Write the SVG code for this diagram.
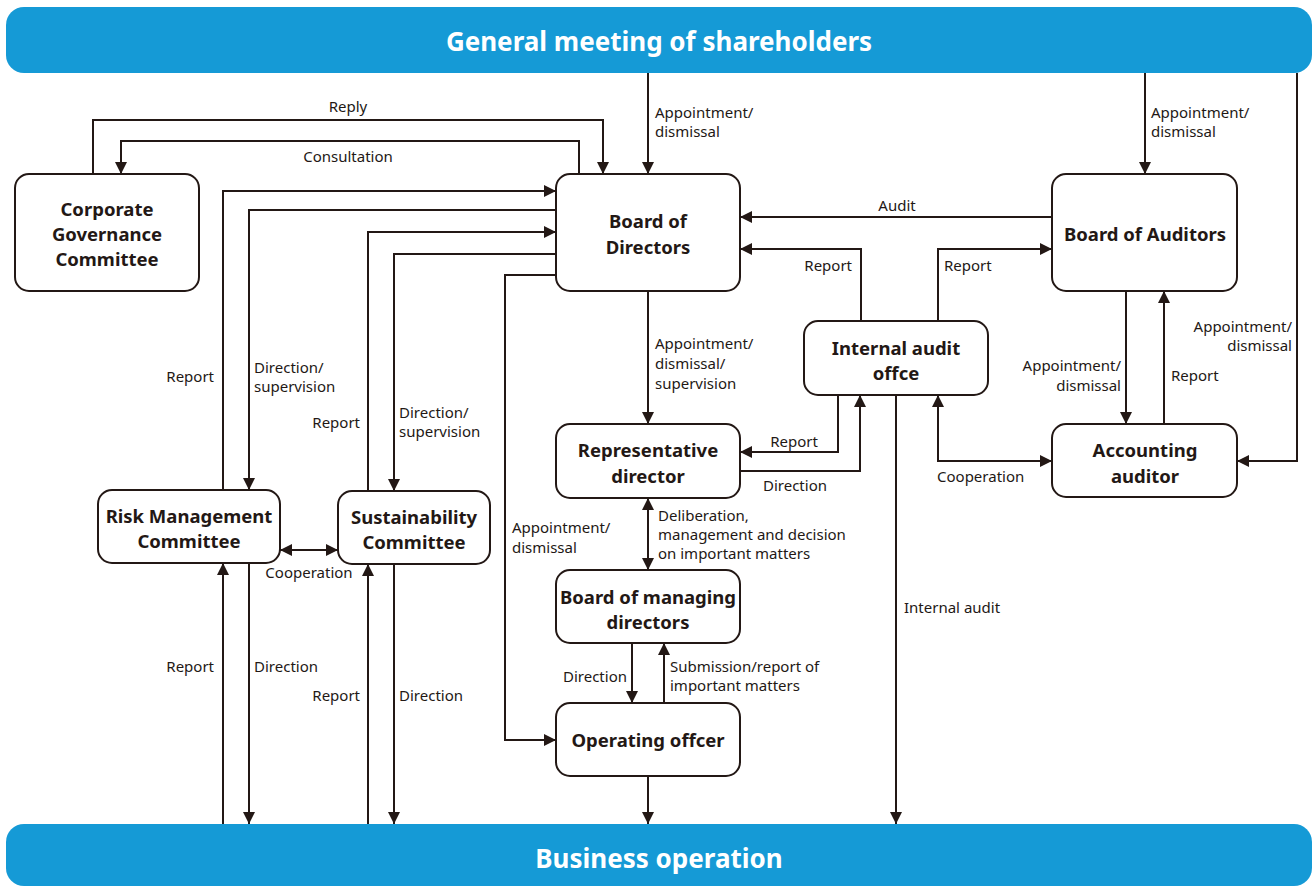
<svg xmlns="http://www.w3.org/2000/svg" width="1313" height="886" viewBox="0 0 1313 886">
  <style>
    .banner { fill: #159ad6; }
    .banner-text { font-family: "Noto Sans", "Liberation Sans", sans-serif; font-weight: bold; font-size: 26px; fill: #ffffff; text-anchor: middle; }
    .box { fill: #ffffff; stroke: #231815; stroke-width: 2; }
    .node-text { font-family: "Noto Sans", "Liberation Sans", sans-serif; font-weight: bold; font-size: 18.5px; fill: #231815; text-anchor: middle; }
    .wire { fill: none; stroke: #231815; stroke-width: 2; }
    .lbl { font-family: "Noto Sans", "Liberation Sans", sans-serif; font-size: 15px; fill: #231815; }
    .mid { text-anchor: middle; }
    .end { text-anchor: end; }
  </style>
  <defs>
    <marker id="arrow" viewBox="0 0 10 10" refX="10" refY="5" markerWidth="12" markerHeight="12" markerUnits="userSpaceOnUse" orient="auto-start-reverse">
      <path d="M0,0 L10,5 L0,10 z" fill="#231815"/>
    </marker>
  </defs>

  <rect width="1313" height="886" fill="#ffffff"/>

  <!-- banners -->
  <g id="general-meeting">
    <rect class="banner" x="6" y="7" width="1306" height="66" rx="18"/>
    <text class="banner-text" x="659" y="51">General meeting of shareholders</text>
  </g>
  <g id="business-operation">
    <rect class="banner" x="6" y="824" width="1306" height="62" rx="18"/>
    <text class="banner-text" x="659" y="868">Business operation</text>
  </g>

  <!-- connectors -->
  <g id="connectors" class="wire">
    <path d="M648,73 V174" marker-end="url(#arrow)"/>
    <path d="M1145,73 V174" marker-end="url(#arrow)"/>
    <path d="M93,174 V120 H603 V174" marker-end="url(#arrow)"/>
    <path d="M579,174 V141 H121 V174" marker-end="url(#arrow)"/>
    <path d="M223,490 V191 H556" marker-end="url(#arrow)"/>
    <path d="M556,210 H249 V490" marker-end="url(#arrow)"/>
    <path d="M368,491 V232 H556" marker-end="url(#arrow)"/>
    <path d="M556,254 H394 V491" marker-end="url(#arrow)"/>
    <path d="M556,275 H505 V740 H556" marker-end="url(#arrow)"/>
    <path d="M1052,217 H740" marker-end="url(#arrow)"/>
    <path d="M861,321 V249 H740" marker-end="url(#arrow)"/>
    <path d="M938,321 V249 H1052" marker-end="url(#arrow)"/>
    <path d="M1297,73 V461 H1237" marker-end="url(#arrow)"/>
    <path d="M1126,291 V424" marker-end="url(#arrow)"/>
    <path d="M1164,424 V291" marker-end="url(#arrow)"/>
    <path d="M938,395 V461 H1052" marker-start="url(#arrow)" marker-end="url(#arrow)"/>
    <path d="M838,395 V452 H740" marker-end="url(#arrow)"/>
    <path d="M740,471 H860 V395" marker-end="url(#arrow)"/>
    <path d="M896,395 V824" marker-end="url(#arrow)"/>
    <path d="M648,291 V424" marker-end="url(#arrow)"/>
    <path d="M648,498 V570" marker-start="url(#arrow)" marker-end="url(#arrow)"/>
    <path d="M632,643 V703" marker-end="url(#arrow)"/>
    <path d="M664,703 V643" marker-end="url(#arrow)"/>
    <path d="M648,776 V824" marker-end="url(#arrow)"/>
    <path d="M280,550 H338" marker-start="url(#arrow)" marker-end="url(#arrow)"/>
    <path d="M223,824 V563" marker-end="url(#arrow)"/>
    <path d="M249,563 V824" marker-end="url(#arrow)"/>
    <path d="M368,824 V564" marker-end="url(#arrow)"/>
    <path d="M394,564 V824" marker-end="url(#arrow)"/>
  </g>

  <!-- connector labels -->
  <g id="connector-labels" class="lbl">
    <text class="mid" x="348" y="112">Reply</text>
    <text class="mid" x="348" y="162">Consultation</text>
    <text x="655" y="118">Appointment/</text>
    <text x="655" y="137">dismissal</text>
    <text x="1151" y="118">Appointment/</text>
    <text x="1151" y="137">dismissal</text>
    <text class="mid" x="897" y="211">Audit</text>
    <text class="end" x="852" y="271">Report</text>
    <text x="944" y="271">Report</text>
    <text class="end" x="1292" y="332">Appointment/</text>
    <text class="end" x="1292" y="351">dismissal</text>
    <text class="end" x="1121" y="371">Appointment/</text>
    <text class="end" x="1121" y="391">dismissal</text>
    <text x="1171" y="381">Report</text>
    <text x="937" y="482">Cooperation</text>
    <text x="904" y="613">Internal audit</text>
    <text x="655" y="349">Appointment/</text>
    <text x="655" y="369">dismissal/</text>
    <text x="655" y="389">supervision</text>
    <text class="mid" x="794" y="447">Report</text>
    <text class="mid" x="795" y="491">Direction</text>
    <text x="658" y="521">Deliberation,</text>
    <text x="658" y="540">management and decision</text>
    <text x="658" y="559">on important matters</text>
    <text x="512" y="533">Appointment/</text>
    <text x="512" y="553">dismissal</text>
    <text class="end" x="214" y="382">Report</text>
    <text x="254" y="373">Direction/</text>
    <text x="254" y="392">supervision</text>
    <text class="end" x="360" y="428">Report</text>
    <text x="399" y="418">Direction/</text>
    <text x="399" y="437">supervision</text>
    <text class="mid" x="309" y="578">Cooperation</text>
    <text class="end" x="214" y="672">Report</text>
    <text x="254" y="672">Direction</text>
    <text class="end" x="360" y="701">Report</text>
    <text x="399" y="701">Direction</text>
    <text class="end" x="627" y="682">Direction</text>
    <text x="670" y="672">Submission/report of</text>
    <text x="670" y="691">important matters</text>
  </g>

  <!-- nodes -->
  <g id="corporate-governance-committee">
    <rect class="box" x="15" y="174" width="184" height="117" rx="14"/>
    <text class="node-text" x="107" y="216">Corporate</text>
    <text class="node-text" x="107" y="241">Governance</text>
    <text class="node-text" x="107" y="266">Committee</text>
  </g>
  <g id="board-of-directors">
    <rect class="box" x="556" y="174" width="184" height="117" rx="14"/>
    <text class="node-text" x="648" y="228">Board of</text>
    <text class="node-text" x="648" y="254">Directors</text>
  </g>
  <g id="board-of-auditors">
    <rect class="box" x="1052" y="174" width="185" height="117" rx="14"/>
    <text class="node-text" x="1145" y="241">Board of Auditors</text>
  </g>
  <g id="internal-audit-office">
    <rect class="box" x="804" y="321" width="184" height="74" rx="14"/>
    <text class="node-text" x="896" y="355">Internal audit</text>
    <text class="node-text" x="896" y="380">offce</text>
  </g>
  <g id="representative-director">
    <rect class="box" x="556" y="424" width="184" height="74" rx="14"/>
    <text class="node-text" x="648" y="457">Representative</text>
    <text class="node-text" x="648" y="483">director</text>
  </g>
  <g id="accounting-auditor">
    <rect class="box" x="1052" y="424" width="185" height="73" rx="14"/>
    <text class="node-text" x="1145" y="457">Accounting</text>
    <text class="node-text" x="1145" y="483">auditor</text>
  </g>
  <g id="risk-management-committee">
    <rect class="box" x="98" y="490" width="182" height="73" rx="14"/>
    <text class="node-text" x="189" y="523">Risk Management</text>
    <text class="node-text" x="189" y="548">Committee</text>
  </g>
  <g id="sustainability-committee">
    <rect class="box" x="338" y="491" width="152" height="73" rx="14"/>
    <text class="node-text" x="414" y="524">Sustainability</text>
    <text class="node-text" x="414" y="549">Committee</text>
  </g>
  <g id="board-of-managing-directors">
    <rect class="box" x="556" y="570" width="184" height="73" rx="14"/>
    <text class="node-text" x="648" y="604">Board of managing</text>
    <text class="node-text" x="648" y="629">directors</text>
  </g>
  <g id="operating-officer">
    <rect class="box" x="556" y="703" width="184" height="73" rx="14"/>
    <text class="node-text" x="648" y="747">Operating offcer</text>
  </g>
</svg>
